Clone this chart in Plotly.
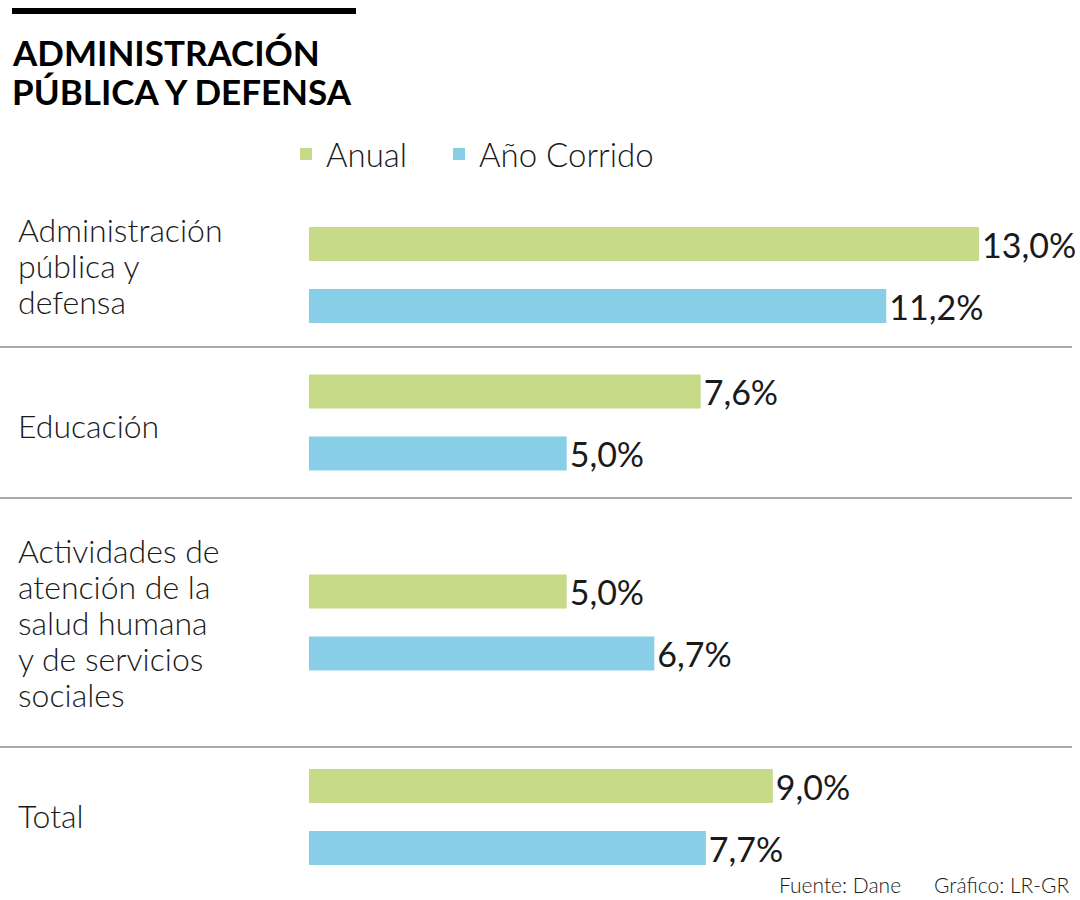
import plotly.graph_objects as go
from plotly.subplots import make_subplots

# --- data ---
categorias = [
    "Administración\npública y\ndefensa",
    "Educación",
    "Actividades de\natención de la\nsalud humana\ny de servicios\nsociales",
    "Total",
]
anual = [13.0, 7.6, 5.0, 9.0]
anio_corrido = [11.2, 5.0, 6.7, 7.7]
series = ["Anual", "Año Corrido"]

titulo = ["ADMINISTRACIÓN", "PÚBLICA Y DEFENSA"]
fuente = "Fuente: Dane"
credito = "Gráfico: LR-GR"

# --- layout constants (pixels) ---
W, H = 1080, 900
colores = ["#c6da88", "#88cee6"]
texto = "#1a1a1a"
fuente_base = "Lato, 'Open Sans', sans-serif"
bordes = [203, 347, 498, 747, 887]   # vertical limits of each block
subir_etiqueta = [10, -3, 0, 2]       # small nudges of the left labels (px up)
leyenda_x = [286, 439]                # left edge of each legend entry
PX_UNIT = 124                         # pixels per category unit
X_LEFT = 309                          # where bars start
PX_PER_PCT = 51.54                    # bar length per percentage point
LINE_PX = 36                          # line spacing of the category labels


def py(px):
    return 1 - px / H


fig = make_subplots(rows=len(categorias), cols=1, shared_xaxes=True, vertical_spacing=0)

for i, cat in enumerate(categorias):
    fila = i + 1
    for k, (nombre, valores, color) in enumerate(zip(series, [anual, anio_corrido], colores)):
        fig.add_trace(
            go.Bar(
                y=[cat], x=[valores[i]], orientation="h", name=nombre,
                marker=dict(color=color, line=dict(width=0)),
                legend="legend" if k == 0 else "legend2",
                legendgroup=nombre, showlegend=(i == 0),
                texttemplate="%{x:.1f}%", textposition="outside",
                textfont=dict(size=34, color=texto, family=fuente_base),
                cliponaxis=False, hoverinfo="skip",
            ),
            row=fila, col=1,
        )

    top, bottom = bordes[i], bordes[i + 1]
    alto = bottom - top
    fig.update_yaxes(
        row=fila, col=1,
        domain=[py(bottom), py(top)],
        range=[alto / (2 * PX_UNIT), -alto / (2 * PX_UNIT)],
        showticklabels=False, showgrid=False, zeroline=False, fixedrange=True,
    )

    # category label, one annotation per line so spacing matches
    lineas = cat.split("\n")
    n = len(lineas)
    yref = "y domain" if fila == 1 else f"y{fila} domain"
    for j, linea in enumerate(lineas):
        fig.add_annotation(
            text=linea, xref="paper", yref=yref, x=16 / W, y=0.5,
            xanchor="left", yanchor="middle", showarrow=False,
            yshift=((n - 1) / 2 - j) * LINE_PX + subir_etiqueta[i],
            font=dict(size=32, color=texto, family=fuente_base, weight=300),
        )

fig.update_xaxes(
    domain=[X_LEFT / W, 1], range=[0, (W - X_LEFT) / PX_PER_PCT],
    visible=False, fixedrange=True,
)

# separators between blocks
for b in bordes[1:-1]:
    fig.add_shape(type="line", xref="paper", yref="paper",
                  x0=0, x1=1072 / W, y0=py(b), y1=py(b),
                  line=dict(color="#8c8c8c", width=1.5))

# black rule above the title
fig.add_shape(type="rect", xref="paper", yref="paper",
              x0=12 / W, x1=356 / W, y0=py(14), y1=py(8),
              fillcolor="black", line=dict(width=0))

for k, linea in enumerate(titulo):
    fig.add_annotation(
        text=f"<b>{linea}</b>", xref="paper", yref="paper",
        x=10 / W, y=py(29 + 39 * k), xanchor="left", yanchor="top", align="left",
        showarrow=False, font=dict(size=35, color="black", family=fuente_base),
    )

fig.add_annotation(text=fuente, xref="paper", yref="paper", x=777 / W, y=py(884),
                   xanchor="left", yanchor="middle", showarrow=False,
                   font=dict(size=21, color=texto, family=fuente_base, weight=300))
fig.add_annotation(text=credito, xref="paper", yref="paper", x=1072 / W, y=py(884),
                   xanchor="right", yanchor="middle", showarrow=False,
                   font=dict(size=21, color=texto, family=fuente_base, weight=300))

leyenda = dict(
    orientation="h", xanchor="left", y=py(154), yanchor="middle",
    font=dict(size=33, color=texto, family=fuente_base, weight=300),
    bgcolor="rgba(0,0,0,0)", itemwidth=30,
    itemclick=False, itemdoubleclick=False,
)

fig.update_layout(
    width=W, height=H,
    margin=dict(l=0, r=0, t=0, b=0),
    paper_bgcolor="white", plot_bgcolor="white",
    barmode="group", bargap=0, bargroupgap=1 - 34 / 62,
    separators=",.",
    uniformtext=dict(mode=False),
    showlegend=True,
    legend=dict(leyenda, x=leyenda_x[0] / W),
    legend2=dict(leyenda, x=leyenda_x[1] / W),
    font=dict(family=fuente_base, color=texto),
)
fig.update_traces(constraintext="none", selector=dict(type="bar"))

# the page body has a default 8px margin; drop it so the figure fills the window
fig.write_html("out.html", config={"displayModeBar": False},
               post_script="document.body.style.margin = '0';")
